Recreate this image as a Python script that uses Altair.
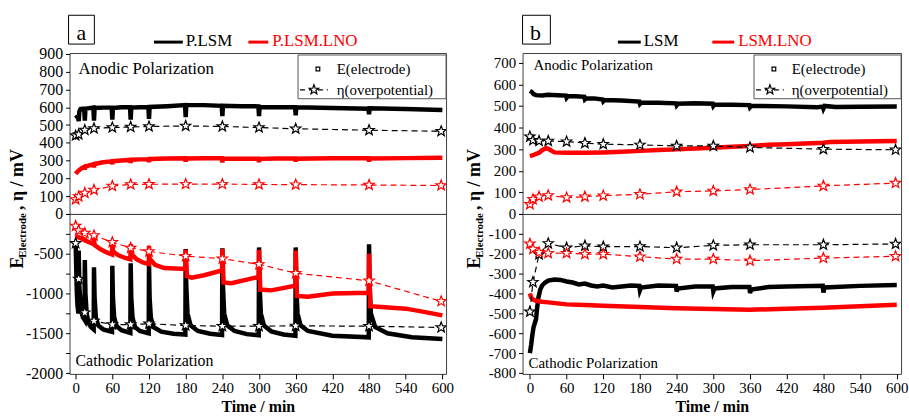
import altair as alt
import pandas as pd

FONT = "'Liberation Serif', 'Times New Roman', 'DejaVu Serif', serif"
STAR = ("M0,-1L0.247,-0.34L0.951,-0.309L0.399,0.13L0.588,0.809L0,0.42"
        "L-0.588,0.809L-0.399,0.13L-0.951,-0.309L-0.247,-0.34Z")
BLACK = "#000000"
RED = "#ff0000"
MATS = ["base", "lno"]

# ---------------- data ----------------
X_TICKS = [0, 60, 120, 180, 240, 300, 360, 420, 480, 540, 600]
ETA_T = [0, 5, 15, 30, 60, 90, 120, 180, 240, 300, 360, 480, 598]

# panel a : P.LSM / P.LSM.LNO
A_NAMES = ["P.LSM", "P.LSM.LNO"]
A_AN_ETA_BASE = [441, 447, 472, 481, 486, 489, 492, 495, 492, 486, 479, 471, 465]
A_AN_ETA_LNO = [82, 98, 118, 135, 157, 166, 167, 168, 168, 166, 165, 163, 160]
A_CA_ETA_BASE = [-368, -817, -1240, -1345, -1390, -1390, -1379, -1402, -1410, -1410, -1406, -1410, -1427]
A_CA_ETA_LNO = [-150, -208, -240, -270, -356, -427, -471, -530, -562, -633, -744, -840, -1098]

A_AN_BASE_T = [0, 2, 4, 5, 6, 8, 11, 14, 15, 16, 22, 29, 30, 31, 45, 59, 60, 61, 75, 89, 90, 91,
               105, 119, 120, 121, 150, 179, 180, 181, 210, 239, 240, 241, 270, 299, 300, 301,
               330, 359, 360, 361, 420, 479, 480, 481, 540, 600]
A_AN_BASE_E = [555, 548, 540, 522, 575, 590, 592, 592, 525, 592, 595, 598, 525, 596, 598, 598,
               530, 596, 600, 600, 530, 598, 600, 601, 535, 602, 606, 612, 545, 612, 612, 608,
               550, 608, 606, 605, 550, 602, 600, 600, 555, 600, 596, 592, 560, 594, 590, 585]
A_AN_LNO_T = [0, 3, 6, 10, 14, 15, 16, 22, 29, 30, 31, 45, 59, 60, 61, 75, 89, 90, 91, 105, 119,
              120, 121, 150, 179, 180, 181, 210, 239, 240, 241, 270, 299, 300, 301, 330, 359, 360,
              361, 420, 479, 480, 481, 540, 600]
A_AN_LNO_E = [225, 238, 248, 258, 265, 250, 266, 273, 279, 262, 281, 291, 296, 280, 297, 301, 304,
              288, 305, 307, 308, 292, 309, 312, 313, 295, 312, 313, 313, 290, 310, 311, 311, 292,
              310, 312, 312, 295, 311, 313, 313, 295, 312, 314, 316]
A_CA_BASE_T = [0, 1, 2, 3, 4.5, 5, 6, 8, 10, 12, 14.5, 15, 16, 18, 21, 25, 29.5, 30, 31, 33, 37,
               45, 59.5, 60, 61, 63, 67, 75, 89.5, 90, 91, 93, 97, 105, 119.5, 120, 121, 123, 127,
               140, 160, 179.5, 180, 181, 183, 188, 200, 220, 239.5, 240, 241, 243, 248, 260, 280,
               299.5, 300, 301, 303, 308, 320, 340, 359.5, 360, 361, 363, 368, 380, 420, 479.5,
               480, 481, 483, 490, 510, 550, 600]
A_CA_BASE_E = [-360, -700, -1000, -1150, -1250, -460, -900, -1150, -1250, -1300, -1330, -580,
               -1000, -1250, -1370, -1420, -1450, -670, -1050, -1300, -1400, -1450, -1480, -650,
               -1050, -1300, -1410, -1460, -1495, -620, -1050, -1300, -1420, -1470, -1500, -610,
               -1050, -1300, -1420, -1480, -1505, -1515, -440, -900, -1250, -1400, -1470, -1505,
               -1520, -430, -900, -1250, -1400, -1470, -1510, -1525, -420, -900, -1250, -1400,
               -1475, -1515, -1530, -420, -900, -1250, -1400, -1470, -1530, -1550, -380, -900,
               -1250, -1420, -1500, -1550, -1570]
A_CA_LNO_T = [0, 5, 10, 14.5, 15, 16, 22, 29.5, 30, 31, 40, 50, 59.5, 60, 61, 70, 80, 89.5, 90, 91,
              100, 110, 119.5, 120, 121, 130, 145, 179.5, 180, 182, 190, 210, 239.5, 240, 242, 255,
              299.5, 300, 302, 320, 359.5, 360, 362, 380, 420, 479.5, 480, 482, 500, 540, 570, 600]
A_CA_LNO_E = [-275, -295, -310, -325, -300, -335, -355, -380, -300, -390, -440, -480, -510, -340,
              -470, -520, -550, -570, -380, -500, -570, -610, -630, -400, -560, -640, -680, -690,
              -450, -780, -800, -770, -710, -440, -860, -870, -790, -450, -950, -960, -900, -460,
              -1030, -1040, -1000, -990, -500, -1160, -1170, -1190, -1230, -1275]

# panel b : LSM / LSM.LNO
B_NAMES = ["LSM", "LSM.LNO"]
B_AN_ETA_BASE = [358, 341, 338, 338, 335, 328, 323, 320, 315, 315, 308, 300, 297]
B_AN_ETA_LNO = [45, 68, 80, 86, 76, 80, 85, 91, 103, 107, 113, 130, 143]
B_CA_ETA_BASE = [-492, -343, -204, -148, -170, -160, -165, -164, -170, -158, -155, -155, -151]
B_CA_ETA_LNO = [-150, -177, -193, -197, -198, -202, -202, -215, -227, -227, -235, -222, -213]

B_AN_BASE_T = [0, 3, 6, 10, 20, 30, 45, 59, 60, 62, 75, 89, 90, 92, 105, 119, 120, 122, 150, 179,
               180, 182, 210, 239, 240, 242, 270, 299, 300, 302, 330, 359, 360, 362, 420, 470, 479,
               480, 482, 500, 540, 600]
B_AN_BASE_E = [570, 565, 555, 550, 548, 552, 550, 548, 538, 545, 545, 542, 530, 535, 535, 530,
               522, 528, 525, 520, 510, 516, 515, 512, 503, 510, 512, 510, 500, 507, 506, 504,
               494, 500, 498, 494, 497, 488, 500, 495, 496, 497]
B_AN_LNO_T = [0, 5, 10, 15, 20, 27, 32, 40, 60, 90, 120, 150, 180, 210, 240, 270, 300, 330, 360,
              390, 420, 450, 480, 490, 540, 600]
B_AN_LNO_E = [268, 272, 278, 283, 295, 305, 298, 285, 283, 283, 285, 288, 292, 296, 299, 303, 307,
              311, 315, 320, 323, 326, 330, 333, 335, 338]
B_CA_BASE_T = [0, 2, 4, 6, 8, 10, 12, 14, 17, 20, 25, 30, 40, 50, 60, 70, 80, 90, 100, 110, 120,
               135, 150, 165, 179, 180, 182, 210, 239, 240, 242, 270, 299, 300, 302, 330, 359, 360,
               362, 390, 420, 479, 480, 482, 540, 600]
B_CA_BASE_E = [-700, -660, -610, -570, -550, -530, -470, -420, -380, -360, -345, -335, -330, -332,
               -340, -345, -355, -350, -360, -365, -360, -370, -365, -360, -362, -385, -370, -360,
               -362, -390, -375, -365, -365, -390, -375, -368, -368, -398, -380, -368, -365, -362,
               -395, -370, -362, -358]
B_CA_LNO_T = [0, 2, 5, 10, 20, 30, 60, 90, 120, 180, 240, 300, 360, 420, 480, 540, 600]
B_CA_LNO_E = [-400, -420, -430, -437, -442, -445, -455, -458, -462, -468, -474, -478, -482, -477,
              -472, -465, -457]

ONE = pd.DataFrame({"k": [0]})


# ---------------- helpers ----------------
def txt(s, x, y, size, color=BLACK, align="left", weight="normal", angle=None, baseline="middle"):
    kw = dict(text=s, font=FONT, fontSize=size, color=color, align=align,
              baseline=baseline, fontWeight=weight)
    if angle is not None:
        kw["angle"] = angle
    return alt.Chart(ONE).mark_text(**kw).encode(x=alt.value(x), y=alt.value(y))


def rule(x1, x2, y, color, width=1.0, dash=None):
    kw = dict(color=color, strokeWidth=width)
    if dash:
        kw["strokeDash"] = dash
    return alt.Chart(ONE).mark_rule(**kw).encode(x=alt.value(x1), x2=alt.value(x2), y=alt.value(y))


def box(x1, x2, y1, y2, stroke, width=1.0):
    return alt.Chart(ONE).mark_rect(fill="white", stroke=stroke, strokeWidth=width).encode(
        x=alt.value(x1), x2=alt.value(x2), y=alt.value(y1), y2=alt.value(y2))


def sym(shape, x, y, size, color):
    return alt.Chart(ONE).mark_point(shape=shape, size=size, filled=False, fill="white",
                                     color=color, opacity=1, strokeWidth=1.2).encode(
        x=alt.value(x), y=alt.value(y))


def section(e_series, eta_series, xdom, ydom, w, h, yaxis, xaxis, annotations, title=None):
    E = pd.concat([pd.DataFrame({"t": t, "v": v, "mat": m}) for t, v, m in e_series])
    H = pd.concat([pd.DataFrame({"t": ETA_T, "v": v, "mat": m}) for v, m in eta_series])
    xkw = dict(scale=alt.Scale(domain=xdom, nice=False, zero=False), axis=xaxis)
    if title:
        xkw["title"] = title
    X = alt.X("t:Q", **xkw)
    Y = alt.Y("v:Q", scale=alt.Scale(domain=ydom, nice=False, zero=False), axis=yaxis)
    C = alt.Color("mat:N", scale=alt.Scale(domain=MATS, range=[BLACK, RED]), legend=None)
    e = alt.Chart(E).mark_line(strokeWidth=4.5, clip=True).encode(X, Y, C)
    hl = alt.Chart(H).mark_line(strokeWidth=1.2, strokeDash=[6, 4], clip=True).encode(X, Y, C)
    hp = alt.Chart(H).mark_point(shape=STAR, size=120, filled=False, fill="white", opacity=1,
                                 strokeWidth=1.2, clip=True).encode(X, Y, C)
    return alt.layer(e, hl, hp, *annotations).properties(width=w, height=h)


def yaxis(values, expr, size):
    return alt.Axis(values=values, labelExpr=expr, title=None, labelFontSize=size, tickSize=4,
                    labelPadding=3, grid=False, domain=False)


XAXIS = alt.Axis(values=X_TICKS, labelFontSize=15, tickSize=5, labelPadding=2, titlePadding=3,
                 titleFontSize=16, titleFontWeight="bold", grid=False, domain=False)


def panel(letter, names, an_e, ca_e, an_eta, ca_eta, top_dom, bot_dom, xdom, w,
          top_ticks, top_expr, bot_ticks, bot_expr, ysize, lay):
    top_ann = [
        box(lay["lbx"][0], lay["lbx"][1], -38, -9, BLACK),
        txt(letter, lay["letter_x"], -13, 22, align="center", baseline="alphabetic"),
        rule(lay["l1"][0], lay["l1"][1], -11, BLACK, 3),
        txt(names[0], lay["l1"][1] + 3, -12, 17),
        rule(lay["l2"][0], lay["l2"][1], -11, RED, 3),
        txt(names[1], lay["l2"][1] + 4, -12, 17, color=RED),
        txt("Anodic Polarization", lay["an"][0], lay["an"][1], lay["an"][2]),
        box(lay["leg"][0], w, 2, 46, "#555555"),
        sym("square", lay["leg"][1], 16, 14, BLACK),
        txt("E(electrode)", lay["leg"][2], 16, 15),
        rule(lay["leg"][0] + 2, lay["leg"][0] + 30, 37, BLACK, 1.2, [5, 4]),
        sym(STAR, lay["leg"][0] + 16, 37, 100, BLACK),
        txt("η(overpotential)", lay["leg"][2], 37, 15),
    ]
    top = section(an_e, an_eta, xdom, top_dom, w, 162,
                  yaxis(top_ticks, top_expr, ysize), None, top_ann)
    yx = lay["ytitle_x"]
    bot_ann = [
        txt("Cathodic Polarization", lay["ca"][0], lay["ca"][1], lay["ca"][2]),
        txt("E", yx, 55, 18, weight="bold", angle=270),
        txt("Electrode", yx + 5, 44, 11, weight="bold", angle=270),
        txt(", η / mV", yx, -4, 18, weight="bold", angle=270),
    ]
    bot = section(ca_e, ca_eta, xdom, bot_dom, w, 161,
                  yaxis(bot_ticks, bot_expr, ysize), XAXIS, bot_ann, title="Time / min")
    return top, bot


top_a, bot_a = panel(
    "a", A_NAMES,
    [(A_AN_BASE_T, A_AN_BASE_E, "base"), (A_AN_LNO_T, A_AN_LNO_E, "lno")],
    [(A_CA_BASE_T, A_CA_BASE_E, "base"), (A_CA_LNO_T, A_CA_LNO_E, "lno")],
    [(A_AN_ETA_BASE, "base"), (A_AN_ETA_LNO, "lno")],
    [(A_CA_ETA_BASE, "base"), (A_CA_ETA_LNO, "lno")],
    [0, 905], [-2010, 0], [-10, 606], 379,
    list(range(0, 901, 100)), "datum.value == 0 ? '' : '' + datum.value",
    list(range(-2000, 1, 250)), "datum.value % 500 == 0 ? '' + datum.value : ''",
    16,
    dict(lbx=(-1, 25), letter_x=12, l1=(85, 114), l2=(180, 200), an=(9, 16, 17),
         leg=(230, 250, 269), ca=(6, 148, 16), ytitle_x=-52),
)

top_b, bot_b = panel(
    "b", B_NAMES,
    [(B_AN_BASE_T, B_AN_BASE_E, "base"), (B_AN_LNO_T, B_AN_LNO_E, "lno")],
    [(B_CA_BASE_T, B_CA_BASE_E, "base"), (B_CA_LNO_T, B_CA_LNO_E, "lno")],
    [(B_AN_ETA_BASE, "base"), (B_AN_ETA_LNO, "lno")],
    [(B_CA_ETA_BASE, "base"), (B_CA_ETA_LNO, "lno")],
    [0, 745], [-805, 0], [-12, 607], 381,
    list(range(0, 701, 100)), "datum.value == 0 ? '' : '' + datum.value",
    list(range(-800, 1, 100)), "'' + datum.value",
    15,
    dict(lbx=(0, 28), letter_x=13, l1=(96, 119), l2=(191, 213), an=(11, 12, 15),
         leg=(233, 253, 271), ca=(6, 150, 15), ytitle_x=-48),
)

chart = alt.concat(top_a, top_b, bot_a, bot_b, columns=2,
                   spacing={"row": 0, "column": 77}, bounds="flush").properties(
    padding={"left": 8, "top": 13, "right": 0, "bottom": 0},
    background="white",
).configure_view(stroke="#404040", strokeWidth=1).configure_axis(
    labelFont=FONT, titleFont=FONT, labelColor=BLACK, titleColor=BLACK, tickColor=BLACK,
    grid=False, domain=False,
)

chart.save("out.html", embed_options={"renderer": "svg", "actions": False})
